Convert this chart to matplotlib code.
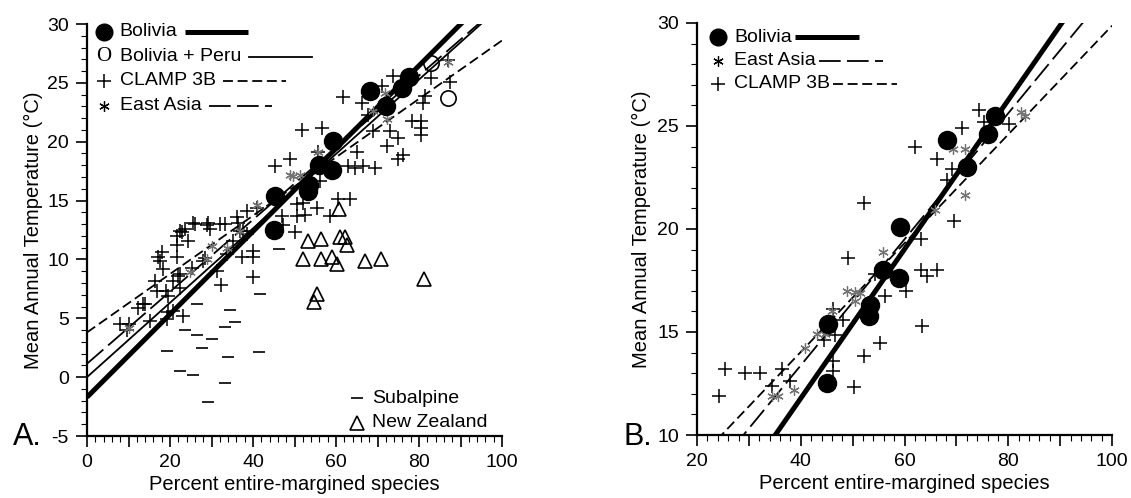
import numpy as np
import matplotlib
matplotlib.use("Agg")
import matplotlib.pyplot as plt
from matplotlib.ticker import MultipleLocator, FuncFormatter

plt.rcParams['font.family'] = ['Liberation Sans', 'DejaVu Sans']
plt.rcParams['axes.unicode_minus'] = False

# ---- data ----
# Bolivia sites (same in both panels)
bol_x = [45.0, 45.2, 53.2, 53.4, 55.9, 59.0, 59.2, 68.1, 72.1, 76.0, 77.5]
bol_y = [12.5, 15.4, 15.8, 16.3, 18.0, 17.6, 20.1, 24.3, 23.0, 24.6, 25.5]

# Peru sites (Bolivia + Peru set, panel A)
peru_x = [87.1, 83.0]
peru_y = [23.7, 26.7]

# CLAMP 3B, panel A
clampA_x = [8.0, 10.0, 9.6, 15.2, 14.0, 12.4, 13.6, 16.4, 16.8, 19.6, 19.6, 23.2, 20.8, 19.2,
            17.6, 18.3, 17.2, 18.0, 21.6, 21.9, 22.4, 20.8, 22.4, 19.1, 25.2, 28.0, 28.4,
            31.3, 32.4, 33.7, 21.6, 22.8, 21.6, 22.4, 23.6, 24.4, 26.0, 25.6, 28.8, 29.2,
            29.6, 32.0, 33.3, 35.3, 36.1, 36.5, 36.9, 37.6, 38.5, 38.5, 40.9, 40.1, 40.1,
            40.1, 37.3, 46.9, 47.3, 50.1, 45.3, 48.9, 51.7, 56.6, 61.8, 66.2, 67.8, 71.2,
            73.8, 81.0, 81.4, 83.0, 87.5, 87.1, 55.7, 65.0, 63.0, 64.6, 66.6, 69.4, 69.0,
            73.0, 75.0, 72.2, 76.2, 75.0, 78.2, 80.6, 80.6, 80.6, 60.6, 63.4, 55.5, 58.6,
            52.5, 50.5, 50.5, 52.1, 56.1]
clampA_y = [4.5, 4.5, 4.0, 4.8, 6.2, 5.9, 6.2, 8.2, 7.3, 6.9, 5.5, 5.2, 5.6, 4.9,
            9.9, 9.2, 10.2, 10.6, 10.2, 8.6, 8.8, 8.2, 7.6, 7.3, 9.3, 9.9, 10.1,
            9.0, 7.8, 10.5, 11.2, 12.3, 12.0, 12.4, 12.6, 11.6, 13.0, 13.1, 12.9, 13.1,
            12.6, 13.0, 13.0, 11.6, 13.6, 13.1, 12.4, 12.4, 12.2, 14.1, 14.4, 10.7, 10.2,
            8.5, 10.2, 13.7, 12.9, 12.3, 17.9, 18.5, 21.0, 21.2, 23.8, 23.3, 22.3, 24.7,
            25.6, 23.3, 23.9, 25.4, 25.1, 26.9, 19.1, 19.1, 17.9, 17.8, 17.9, 17.8, 20.9,
            20.9, 20.3, 19.6, 18.9, 18.5, 21.8, 21.8, 21.2, 20.6, 15.1, 15.1, 14.4, 13.7,
            13.8, 14.7, 13.7, 14.8, 16.7]

# East Asia, panel A
asiaA_x = [10.0, 24.8, 29.0, 30.0, 33.7, 36.9, 40.9, 44.5, 48.9, 49.7, 51.3, 55.7, 69.0, 71.8, 72.2, 87.1]
asiaA_y = [4.2, 8.9, 10.0, 11.1, 11.0, 12.4, 14.6, 15.3, 17.2, 17.1, 17.2, 19.1, 22.6, 24.1, 21.9, 26.8]

# Subalpine, panel A
sub_x = [46.2, 41.7, 34.5, 35.7, 33.3, 26.4, 23.6, 26.4, 30.2, 27.6, 19.2, 41.5, 34.0, 22.4, 25.5, 33.3, 29.2]
sub_y = [10.9, 7.1, 5.7, 4.7, 4.3, 6.2, 4.0, 3.6, 3.2, 2.5, 2.2, 2.1, 1.7, 0.5, 0.2, -0.5, -2.1]

# New Zealand, panel A
nz_x = [60.7, 53.3, 56.4, 61.0, 62.2, 62.7, 52.0, 56.5, 59.0, 60.3, 67.0, 70.8, 81.3, 55.5, 54.7]
nz_y = [14.3, 11.6, 11.7, 11.9, 11.9, 11.2, 10.0, 10.0, 10.2, 9.6, 9.9, 10.0, 8.3, 7.1, 6.4]

# CLAMP 3B, panel B
clampB_x = [24.3, 25.4, 29.3, 32.2, 36.4, 34.4, 38.0, 44.4, 46.6, 46.3, 48.2, 46.3, 46.3, 50.2,
            52.2, 55.3, 56.3, 60.3, 63.4, 63.1, 64.3, 66.3, 63.1, 49.2, 52.1, 54.4, 62.1,
            66.3, 69.2, 68.2, 69.5, 71.1, 74.3, 75.3, 80.1]
clampB_y = [11.9, 13.2, 13.0, 13.0, 13.2, 12.4, 12.6, 14.6, 14.85, 16.1, 15.6, 13.6, 13.1, 12.35,
            13.85, 14.45, 16.75, 17.0, 15.3, 18.0, 17.7, 18.0, 19.5, 18.6, 21.25, 17.8, 24.0,
            23.4, 22.9, 22.4, 20.4, 24.9, 25.8, 25.2, 25.1]

# East Asia, panel B
asiaB_x = [34.5, 35.7, 38.7, 40.8, 43.1, 44.7, 46.0, 48.9, 50.5, 51.5, 50.5, 55.8, 65.9, 71.7, 69.4, 71.7, 82.4, 83.3]
asiaB_y = [11.9, 11.9, 12.2, 14.2, 14.9, 14.9, 16.0, 17.0, 16.95, 16.9, 16.5, 18.9, 20.9, 21.65, 23.9, 23.9, 25.7, 25.5]

# regression lines (slope, intercept) as drawn
fitsA = {'bolivia': (0.352, -1.7), 'bolperu': (0.316, 0.0),
         'clamp': (0.248, 3.8), 'asia': (0.306, 1.14)}
fitsB = {'bolivia': (0.362, -2.7), 'asia': (0.306, 1.14), 'clamp': (0.264, 3.47)}

TEXT = 14
fig = plt.figure(figsize=(11.31, 4.98), dpi=100)
axA = fig.add_axes([87 / 1131, 62 / 498, 415 / 1131, 412 / 498])
axB = fig.add_axes([697 / 1131, 63 / 498, 415 / 1131, 412 / 498])

line_styles = {
    'bolivia': dict(color='black', lw=3.6, solid_capstyle='butt'),
    'bolperu': dict(color='black', lw=1.3),
    'clamp': dict(color='black', lw=1.3, dashes=(5.5, 2.6)),
    'asia': dict(color='black', lw=1.3, dashes=(12, 3.5)),
}
mk_bol = dict(marker='o', ms=13, color='black', ls='none')
mk_peru = dict(marker='o', ms=11, mfc='none', mec='black', mew=1.2, ls='none')
mk_plus = dict(marker='+', ms=10, color='black', mew=1.1, ls='none')
mk_ast = dict(marker=(6, 2, 0), ms=7.5, color='0.45', mew=0.9, ls='none')
mk_sub = dict(marker='_', ms=9, color='black', mew=1.2, ls='none')
mk_nz = dict(marker='^', ms=10, mfc='none', mec='black', mew=1.2, ls='none')


def style(ax, xlim, ylim):
    ax.set_xlim(*xlim)
    ax.set_ylim(*ylim)
    for s in ['top', 'right']:
        ax.spines[s].set_visible(False)
    for s in ['left', 'bottom']:
        ax.spines[s].set_linewidth(1.6)
    ax.xaxis.set_major_locator(MultipleLocator(10))
    ax.xaxis.set_minor_locator(MultipleLocator(2))
    ax.xaxis.set_major_formatter(FuncFormatter(lambda v, p: '%d' % v if round(v) % 20 == 0 else ''))
    ax.yaxis.set_major_locator(MultipleLocator(5))
    ax.yaxis.set_minor_locator(MultipleLocator(1))
    ax.tick_params(which='major', direction='out', length=8, width=1.2, labelsize=TEXT, pad=5)
    ax.tick_params(which='minor', direction='out', length=4, width=0.8)
    ax.set_xlabel('Percent entire-margined species', fontsize=14.5)
    ax.set_ylabel('Mean Annual Temperature (°C)', fontsize=14.5)
    ax.xaxis.set_label_coords(0.5, -0.095)


# ---- panel A ----
xs = np.array([0.0, 100.0])
for key in ['clamp', 'asia', 'bolperu', 'bolivia']:
    m, b = fitsA[key]
    axA.plot(xs, m * xs + b, zorder=2, **line_styles[key])
axA.plot(clampA_x, clampA_y, zorder=3, **mk_plus)
axA.plot(asiaA_x, asiaA_y, zorder=3, **mk_ast)
axA.plot(sub_x, sub_y, zorder=3, **mk_sub)
axA.plot(nz_x, nz_y, zorder=3, **mk_nz)
axA.plot(peru_x, peru_y, zorder=3, **mk_peru)
axA.plot(bol_x, bol_y, zorder=4, **mk_bol)
style(axA, (0, 100), (-5, 30))
axA.yaxis.set_label_coords(-0.105, 0.5)

# ---- panel B ----
xs = np.array([20.0, 100.0])
for key in ['clamp', 'asia', 'bolivia']:
    m, b = fitsB[key]
    axB.plot(xs, m * xs + b, zorder=2, **line_styles[key])
axB.plot(clampB_x, clampB_y, zorder=3, **mk_plus)
axB.plot(asiaB_x, asiaB_y, zorder=3, **mk_ast)
axB.plot(bol_x, bol_y, zorder=4, **mk_bol)
style(axB, (20, 100), (10, 30))
axB.yaxis.set_label_coords(-0.112, 0.5)

# ---- legends (marker, label, line sample after the label) ----
rowsA = [('bolivia', mk_bol, 'Bolivia'), ('bolperu', None, 'Bolivia + Peru'),
         ('clamp', mk_plus, 'CLAMP 3B'), ('asia', mk_ast, 'East Asia')]
rowsB = [('bolivia', mk_bol, 'Bolivia'), ('asia', mk_ast, 'East Asia'),
         ('clamp', mk_plus, 'CLAMP 3B')]


def build_legend(ax, rows, ys, xm, xt):
    texts = []
    for (key, mk, lab), y in zip(rows, ys):
        if mk is None:
            ax.text(xm, y, 'O', transform=ax.transAxes, ha='center', va='center',
                    fontsize=15, family='Liberation Serif')
        else:
            kw = dict(mk)
            if mk is mk_bol:
                kw['ms'] = 12
            if mk is mk_ast:
                kw['color'] = 'black'
            ax.plot([xm], [y], transform=ax.transAxes, clip_on=False, **kw)
        t = ax.text(xt, y, lab, transform=ax.transAxes, ha='left', va='center', fontsize=TEXT)
        texts.append((key, t, y))
    return texts


legA = build_legend(axA, rowsA, [0.981, 0.920, 0.862, 0.801], 0.041, 0.079)
legB = build_legend(axB, rowsB, [0.966, 0.908, 0.852], 0.05, 0.089)

# second legend in panel A
axA.plot([0.65], [0.092], transform=axA.transAxes, **mk_sub)
axA.text(0.687, 0.092, 'Subalpine', transform=axA.transAxes, va='center', fontsize=TEXT)
axA.plot([0.65], [0.032], transform=axA.transAxes, **mk_nz)
axA.text(0.687, 0.032, 'New Zealand', transform=axA.transAxes, va='center', fontsize=TEXT)

fig.canvas.draw()
r = fig.canvas.get_renderer()
for ax, leg, gap, length in [(axA, legA, 0.018, 0.152), (axB, legB, 0.008, 0.154)]:
    inv = ax.transAxes.inverted()
    for key, t, y in leg:
        bb = t.get_window_extent(renderer=r)
        x1 = inv.transform((bb.x1, bb.y0))[0] + gap
        ax.plot([x1, x1 + length], [y, y], transform=ax.transAxes, clip_on=False,
                **line_styles[key])

fig.text(13 / 1131, 1 - 445 / 498, 'A.', fontsize=22, va='baseline')
fig.text(623 / 1131, 1 - 445 / 498, 'B.', fontsize=22, va='baseline')

fig.savefig('out.png', dpi=100)
